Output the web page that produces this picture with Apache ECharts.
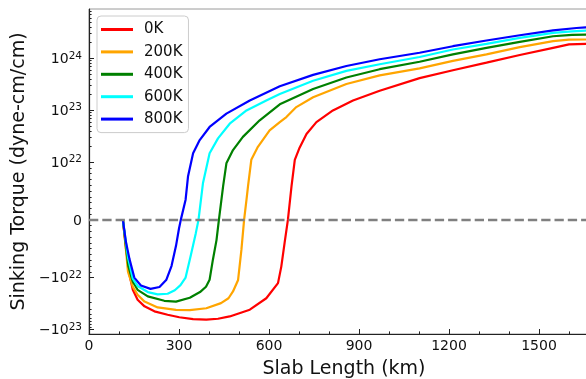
<!DOCTYPE html>
<html>
<head>
<meta charset="utf-8">
<script src="https://cdn.jsdelivr.net/npm/echarts@6/dist/echarts.min.js"></script>
<style>
html,body{margin:0;padding:0;background:#fff;}
#chart{width:586px;height:379px;}
</style>
</head>
<body>
<div id="chart"></div>
<script>
// Slab length (km) vs sinking torque (dyne-cm/cm), one array per temperature
const seriesNames = ['0K', '200K', '400K', '600K', '800K'];
const seriesColors = ['#ff0000', '#ffa500', '#008000', '#00ffff', '#0000ff'];

const torque0K = [[113,0],[123,-4.9e21],[135,-9.5e21],[146,-1.72e22],[162,-2.67e22],[185,-3.58e22],[218,-4.47e22],[262,-5.2e22],[301,-5.8e22],[347,-6.3e22],[391,-6.45e22],[430,-6.2e22],[469,-5.6e22],[536,-4.15e22],[591,-2.5e22],[630,-1.28e22],[641,-8.1e21],[652,-4.0e21],[663,0],[675,5.8e21],[686,1.11e22],[702,1.9e22],[725,3.5e22],[758,5.9e22],[813,9.9e22],[880,1.54e23],[969,2.38e23],[1102,4.16e23],[1213,5.9e23],[1325,8.24e23],[1436,1.16e24],[1547,1.59e24],[1600,1.85e24],[1656,1.9e24],[1700,1.91e24]];
const torque200K = [[113,0],[122,-4.5e21],[130,-9e21],[146,-1.5e22],[162,-2.14e22],[185,-2.9e22],[229,-3.75e22],[290,-4.2e22],[336,-4.25e22],[391,-3.9e22],[440,-3.1e22],[465,-2.5e22],[480,-1.85e22],[497,-1.11e22],[508,-5.2e21],[517,0],[525,3.5e21],[530,5.8e21],[541,1.11e22],[563,1.98e22],[602,4.1e22],[636,5.9e22],[658,7.4e22],[691,1.15e23],[747,1.78e23],[858,3.2e23],[969,4.7e23],[1102,6.4e23],[1213,8.9e23],[1325,1.19e24],[1436,1.64e24],[1547,2.14e24],[1600,2.28e24],[1656,2.3e24],[1700,2.31e24]];
const torque400K = [[113,0],[122,-4e21],[131,-8e21],[146,-1.2e22],[162,-1.72e22],[196,-2.3e22],[251,-2.8e22],[290,-2.9e22],[336,-2.45e22],[370,-1.9e22],[390,-1.5e22],[402,-1.1e22],[413,-6.9e21],[425,-3.5e21],[433,0],[447,5.8e21],[458,9.8e21],[480,1.71e22],[513,3.07e22],[569,6.4e22],[636,1.3e23],[747,2.57e23],[858,4.27e23],[969,6.17e23],[1102,8.6e23],[1213,1.19e24],[1325,1.59e24],[1436,2.07e24],[1547,2.66e24],[1610,2.82e24],[1656,2.86e24],[1700,2.88e24]];
const torque600K = [[113,0],[122,-3.5e21],[130,-6.5e21],[146,-1.05e22],[162,-1.45e22],[196,-1.9e22],[229,-2.1e22],[262,-2.05e22],[286,-1.75e22],[305,-1.4e22],[322,-1.0e22],[340,-6.0e21],[356,-2.3e21],[365,0],[380,6.4e21],[402,1.48e22],[430,2.87e22],[469,5.5e22],[525,9.9e22],[591,1.54e23],[636,2.06e23],[747,3.7e23],[858,5.73e23],[969,7.69e23],[1102,1.06e24],[1213,1.48e24],[1325,1.9e24],[1436,2.47e24],[1547,3.08e24],[1610,3.3e24],[1656,3.41e24],[1700,3.45e24]];
const torque800K = [[113,0],[123,-3.8e21],[135,-6.8e21],[151,-1.0e22],[173,-1.42e22],[205,-1.65e22],[235,-1.52e22],[258,-1.1e22],[275,-8.0e21],[290,-4.5e21],[300,-1.5e21],[306,0],[322,3.5e21],[330,7.5e21],[347,1.48e22],[369,2.66e22],[402,4.76e22],[458,8.6e22],[536,1.54e23],[636,2.9e23],[747,4.8e23],[858,7.1e23],[969,9.6e23],[1102,1.28e24],[1213,1.71e24],[1325,2.2e24],[1436,2.78e24],[1547,3.46e24],[1625,3.83e24],[1656,3.94e24],[1700,3.98e24]];
const allTorque = [torque0K, torque200K, torque400K, torque600K, torque800K];

// axis ticks
const xMajorTicks = [0, 300, 600, 900, 1200, 1500];
const xMinorTicks = [100, 200, 400, 500, 700, 800, 1000, 1100, 1300, 1400, 1600];
const yMajorTicks = [1e24, 1e23, 1e22, 0, -1e22, -1e23];
const yMajorLabels = ['{b|10}{s|24}', '{b|10}{s|23}', '{b|10}{s|22}', '{b|0}', '{b|\u221210}{s|22}', '{b|\u221210}{s|23}'];
const xRange = [0, 1700];
const yRange = [-1.22e23, 8.9e24];

// symmetric-log transform (linthresh 1e22, linscale 1)
const LIN = 1e22;
const LSA = 1 / (1 - 1 / 10);
function symlog(v) {
  const a = Math.abs(v);
  if (a <= LIN) return v / LIN * LSA;
  return Math.sign(v) * (LSA + Math.log10(a / LIN));
}
function yMinorValues() {
  const out = [];
  const lo = symlog(yRange[0]), hi = symlog(yRange[1]);
  for (let k = 1; k <= 9; k++) { out.push(symlog(k * 1e21)); out.push(symlog(-k * 1e21)); }
  for (let n = 22; n <= 24; n++) {
    for (let k = 2; k <= 9; k++) {
      const p = symlog(k * Math.pow(10, n)), m = symlog(-k * Math.pow(10, n));
      if (p < hi) out.push(p);
      if (m > lo) out.push(m);
    }
  }
  return out;
}
const yMajorT = yMajorTicks.map(symlog);

const FONT = 'DejaVu Sans';
const chart = echarts.init(document.getElementById('chart'), null, {renderer: 'canvas'});

const series = allTorque.map((d, i) => ({
  name: seriesNames[i],
  type: 'line',
  xAxisIndex: 0,
  yAxisIndex: 0,
  data: d.map(p => [p[0], symlog(p[1])]),
  showSymbol: false,
  symbol: 'none',
  lineStyle: {color: seriesColors[i], width: 2.2},
  itemStyle: {color: seriesColors[i]},
  z: 3
}));
series.push({
  name: 'zero',
  type: 'line',
  data: [],
  markLine: {
    silent: true,
    symbol: ['none', 'none'],
    label: {show: false},
    lineStyle: {color: '#808080', width: 2.4, type: [9.3, 4]},
    data: [{yAxis: 0}]
  },
  z: 4
});

chart.setOption({
  animation: false,
  backgroundColor: '#fff',
  grid: {left: 89, top: 9, width: 510, height: 325, outerBoundsMode: 'none', containLabel: false,
         show: true, borderColor: '#9a9a9a', borderWidth: 1, backgroundColor: 'transparent'},
  legend: {
    data: seriesNames,
    orient: 'vertical',
    left: 97, top: 16,
    padding: [6, 6, 6, 4],
    itemGap: 7.4,
    itemWidth: 32, itemHeight: 3,
    icon: 'rect',
    backgroundColor: 'rgba(255,255,255,0.85)',
    borderColor: '#cccccc', borderWidth: 1, borderRadius: 4,
    textStyle: {fontFamily: FONT, fontSize: 15, color: '#111', padding: [0, 0, 0, 6]}
  },
  xAxis: [{
    type: 'value', min: xRange[0], max: xRange[1],
    name: 'Slab Length (km)', nameLocation: 'middle', nameGap: 26,
    nameTextStyle: {fontFamily: FONT, fontSize: 19, color: '#111'},
    axisLine: {onZero: false, lineStyle: {color: '#222', width: 1.2}},
    axisTick: {inside: true, length: 5, customValues: xMajorTicks, lineStyle: {color: '#222'}},
    axisLabel: {customValues: xMajorTicks, margin: 5, fontFamily: FONT, fontSize: 14, color: '#111',
                formatter: v => String(v)},
    splitLine: {show: false}
  }, {
    type: 'value', min: xRange[0], max: xRange[1], position: 'bottom',
    axisLine: {show: false, onZero: false},
    axisTick: {inside: true, length: 2.6, customValues: xMinorTicks, lineStyle: {color: '#222'}},
    axisLabel: {show: false},
    splitLine: {show: false}
  }],
  yAxis: [{
    type: 'value', min: symlog(yRange[0]), max: symlog(yRange[1]),
    name: 'Sinking Torque (dyne-cm/cm)', nameLocation: 'middle', nameGap: 54,
    nameTextStyle: {fontFamily: FONT, fontSize: 19, color: '#111'},
    axisLine: {show: true, onZero: false, lineStyle: {color: '#222', width: 1.2}},
    axisTick: {show: true, inside: true, length: 5, customValues: yMajorT, lineStyle: {color: '#222'}},
    axisLabel: {
      customValues: yMajorT, margin: 7,
      formatter: function (v) {
        for (let i = 0; i < yMajorT.length; i++) if (Math.abs(v - yMajorT[i]) < 1e-6) return yMajorLabels[i];
        return '';
      },
      rich: {
        b: {fontFamily: FONT, fontSize: 14, color: '#111', lineHeight: 16, verticalAlign: 'bottom'},
        s: {fontFamily: FONT, fontSize: 10.5, color: '#111', lineHeight: 11, verticalAlign: 'top'}
      }
    },
    splitLine: {show: false}
  }, {
    type: 'value', min: symlog(yRange[0]), max: symlog(yRange[1]), position: 'left',
    axisLine: {show: false, onZero: false},
    axisTick: {show: true, inside: true, length: 2.6, customValues: yMinorValues(), lineStyle: {color: '#222'}},
    axisLabel: {show: false},
    splitLine: {show: false}
  }],
  series: series
});
</script>
</body>
</html>
